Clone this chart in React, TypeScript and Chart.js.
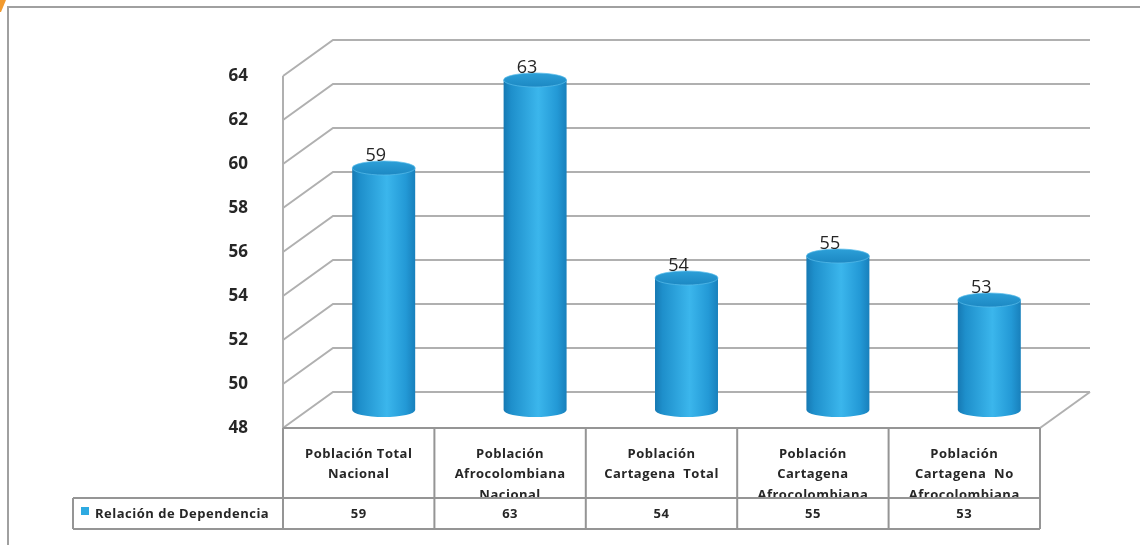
import React, { useEffect, useRef } from "react";
import { Chart, registerables } from "chart.js";

Chart.register(...registerables);

const categories: string[][] = [
  ["Población Total", "Nacional"],
  ["Población", "Afrocolombiana", "Nacional"],
  ["Población", "Cartagena  Total"],
  ["Población", "Cartagena", "Afrocolombiana"],
  ["Población", "Cartagena  No", "Afrocolombiana"],
];
const values: number[] = [59, 63, 54, 55, 53];
const seriesName = "Relación de Dependencia";
const yTicks: number[] = [48, 50, 52, 54, 56, 58, 60, 62, 64];

const DX = 50;
const DY = -36;
const GRID = "#b0b0b0";
const TABLE = "#959595";
const TEXT = "#262626";
const FONT = "'Open Sans', 'Noto Sans', sans-serif";

const threeD = {
  id: "threeD",
  beforeDatasetsDraw(chart: any) {
    const { ctx, chartArea, scales } = chart;
    const { left, right, top, bottom } = chartArea;
    const y = scales.y;
    ctx.save();
    ctx.strokeStyle = GRID;
    ctx.lineWidth = 2;
    ctx.lineJoin = "miter";
    ctx.beginPath();
    ctx.moveTo(left, top);
    ctx.lineTo(left, bottom);
    ctx.stroke();
    y.ticks.forEach((t: any) => {
      const py = y.getPixelForValue(t.value);
      ctx.beginPath();
      ctx.moveTo(left, py);
      ctx.lineTo(left + DX, py + DY);
      ctx.lineTo(right + DX, py + DY);
      ctx.stroke();
    });
    ctx.beginPath();
    ctx.moveTo(right, bottom);
    ctx.lineTo(right + DX, bottom + DY);
    ctx.stroke();
    ctx.restore();
  },
  afterDatasetsDraw(chart: any) {
    const { ctx, scales } = chart;
    const y = scales.y;
    const meta = chart.getDatasetMeta(0);
    const data = chart.data.datasets[0].data;
    const floorPx = y.getPixelForValue(y.min);
    ctx.save();
    meta.data.forEach((el: any, i: number) => {
      const cx = el.x + DX / 2;
      const top = el.y + DY / 2;
      const bot = Math.min(el.base, floorPx) + DY / 2;
      const rx = el.width / 2;
      const ry = 7;
      const g = ctx.createLinearGradient(cx - rx, 0, cx + rx, 0);
      g.addColorStop(0, "#1679b3");
      g.addColorStop(0.12, "#1e8fcb");
      g.addColorStop(0.55, "#3bb6ec");
      g.addColorStop(0.85, "#2399d6");
      g.addColorStop(1, "#1880bc");
      ctx.fillStyle = g;
      ctx.beginPath();
      ctx.moveTo(cx - rx, top);
      ctx.lineTo(cx - rx, bot);
      ctx.ellipse(cx, bot, rx, ry, 0, Math.PI, 0, true);
      ctx.lineTo(cx + rx, top);
      ctx.closePath();
      ctx.fill();
      const tg = ctx.createLinearGradient(0, top - ry, 0, top + ry);
      tg.addColorStop(0, "#2c9fd8");
      tg.addColorStop(1, "#1c88c3");
      ctx.fillStyle = tg;
      ctx.beginPath();
      ctx.ellipse(cx, top, rx, ry, 0, 0, Math.PI * 2);
      ctx.fill();
      ctx.strokeStyle = "rgba(90,190,235,0.7)";
      ctx.lineWidth = 1;
      ctx.stroke();
      ctx.fillStyle = TEXT;
      ctx.font = `18px ${FONT}`;
      ctx.textAlign = "center";
      ctx.textBaseline = "alphabetic";
      ctx.fillText(String(data[i]), cx - 8, top - ry);
    });
    ctx.restore();
  },
  afterDraw(chart: any) {
    const { ctx, chartArea, scales } = chart;
    const { left, right, bottom } = chartArea;
    const x = scales.x;
    const n = chart.data.labels.length;
    const w = (right - left) / n;
    const r1 = bottom + 70;
    const r2 = r1 + 31;
    const legLeft = 73;
    ctx.save();
    // category labels
    ctx.save();
    ctx.beginPath();
    ctx.rect(left, bottom, right - left, r1 - bottom - 1);
    ctx.clip();
    ctx.fillStyle = TEXT;
    ctx.font = `bold 13px ${FONT}`;
    (ctx as any).letterSpacing = "0.5px";
    ctx.textAlign = "center";
    ctx.textBaseline = "middle";
    chart.data.labels.forEach((lab: string[], i: number) => {
      const cx = x.getPixelForValue(i);
      lab.forEach((line: string, j: number) => {
        ctx.fillText(line, cx, bottom + 26 + j * 20.5);
      });
    });
    ctx.restore();
    // values row
    ctx.fillStyle = TEXT;
    ctx.font = `bold 13px ${FONT}`;
    (ctx as any).letterSpacing = "0.5px";
    ctx.textAlign = "center";
    ctx.textBaseline = "middle";
    chart.data.datasets[0].data.forEach((v: number, i: number) => {
      ctx.fillText(String(v), x.getPixelForValue(i), (r1 + r2) / 2 + 1);
    });
    // legend cell
    ctx.fillStyle = "#2eaae1";
    ctx.fillRect(81, r1 + 9, 8, 8);
    ctx.fillStyle = TEXT;
    ctx.textAlign = "left";
    ctx.fillText(chart.data.datasets[0].label, 95, (r1 + r2) / 2 + 1);
    // table lines
    ctx.strokeStyle = TABLE;
    ctx.lineWidth = 2;
    ctx.beginPath();
    ctx.moveTo(left, bottom);
    ctx.lineTo(right, bottom);
    for (let i = 0; i <= n; i++) {
      const bx = left + i * w;
      ctx.moveTo(bx, bottom);
      ctx.lineTo(bx, r2);
    }
    ctx.moveTo(legLeft, r1);
    ctx.lineTo(right, r1);
    ctx.moveTo(legLeft, r2);
    ctx.lineTo(right, r2);
    ctx.moveTo(legLeft, r1);
    ctx.lineTo(legLeft, r2);
    ctx.stroke();
    // outer frame
    ctx.strokeStyle = "#a0a0a0";
    ctx.lineWidth = 2;
    ctx.beginPath();
    ctx.moveTo(8, chart.height);
    ctx.lineTo(8, 7);
    ctx.lineTo(chart.width, 7);
    ctx.stroke();
    // orange corner
    ctx.fillStyle = "#f29a2e";
    ctx.beginPath();
    ctx.moveTo(0, 0);
    ctx.lineTo(6, 0);
    ctx.lineTo(1, 12);
    ctx.lineTo(0, 12);
    ctx.closePath();
    ctx.fill();
    ctx.restore();
  },
};

export default function App() {
  const ref = useRef<HTMLCanvasElement | null>(null);
  useEffect(() => {
    if (!ref.current) return;
    const chart = new Chart(ref.current, {
      type: "bar",
      data: {
        labels: categories,
        datasets: [
          {
            label: seriesName,
            data: values,
            backgroundColor: "rgba(0,0,0,0)",
            borderWidth: 0,
            barPercentage: 0.416,
            categoryPercentage: 1,
          },
        ],
      },
      options: {
        responsive: false,
        animation: false,
        layout: { padding: { left: 0, right: 100, top: 76, bottom: 117 } },
        plugins: { legend: { display: false }, tooltip: { enabled: false } },
        scales: {
          x: { display: false, offset: true, grid: { display: false } },
          y: {
            min: yTicks[0],
            max: yTicks[yTicks.length - 1],
            afterFit: (s: any) => {
              s.width = 283;
            },
            afterBuildTicks: (s: any) => {
              s.ticks = yTicks.map((v) => ({ value: v }));
            },
            grid: { display: false, drawTicks: false },
            border: { display: false },
            ticks: {
              padding: 35,
              color: TEXT,
              font: { family: FONT, size: 17, weight: "bold" },
            },
          },
        },
      },
      plugins: [threeD],
    });
    return () => chart.destroy();
  }, []);
  return (
    <div style={{ position: "absolute", left: 0, top: 0, width: 1140, height: 545, background: "#fff" }}>
      <canvas ref={ref} width={1140} height={545} style={{ display: "block" }} />
    </div>
  );
}
